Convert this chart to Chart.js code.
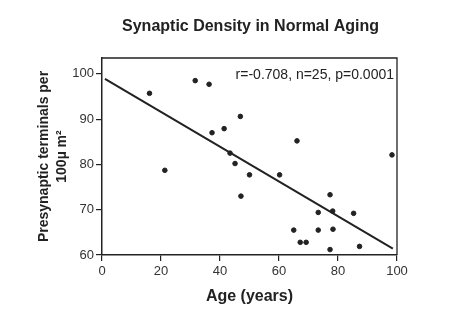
<!DOCTYPE html>
<html>
<head>
<meta charset="utf-8">
<script src="https://cdn.jsdelivr.net/npm/chart.js@4"></script>
<style>
  body { margin: 0; background: #fff; }
  #wrap { width: 470px; height: 328px; }
</style>
</head>
<body>
<div id="wrap"><canvas id="myChart"></canvas></div>
<script>
// ages and synaptic densities
var ages = [16.1, 31.6, 36.3, 21.3, 37.3, 41.4, 46.9, 43.4, 45.1, 50.0, 47.1, 60.2, 66.1,
            98.3, 77.3, 73.3, 78.2, 85.3, 65.0, 73.3, 78.3, 67.2, 69.2, 77.3, 87.3];
var density = [95.7, 98.5, 97.7, 78.7, 87.0, 87.9, 90.6, 82.5, 80.2, 77.7, 73.0, 77.7, 85.2,
               82.1, 73.3, 69.4, 69.7, 69.2, 65.5, 65.5, 65.7, 62.8, 62.8, 61.2, 61.9];
// regression line ends
var fitX = [1, 98.6];
var fitY = [98.9, 61.4];
var yTicks = [60, 70, 80, 90, 100];
var titleText = 'Synaptic Density in Normal Aging';
var statsText = 'r=-0.708, n=25, p=0.0001';

var ink = '#222';
var fam = '"Liberation Sans", Arial, sans-serif';

var points = [];
for (var i = 0; i < ages.length; i++) {
  points.push({x: ages[i], y: density[i]});
}
var fit = [];
for (var j = 0; j < fitX.length; j++) {
  fit.push({x: fitX[j], y: fitY[j]});
}

// frame top/right, title centred over the plot, stats text
var boxAndText = {
  id: 'boxAndText',
  afterDraw: function(chart) {
    var ctx = chart.ctx, a = chart.chartArea;
    ctx.save();
    ctx.strokeStyle = ink;
    ctx.lineWidth = 1.3;
    ctx.beginPath();
    ctx.moveTo(a.left, a.top);
    ctx.lineTo(a.right, a.top);
    ctx.lineTo(a.right, a.bottom);
    ctx.stroke();
    ctx.fillStyle = ink;
    ctx.textBaseline = 'middle';
    ctx.font = 'bold 16px ' + fam;
    ctx.textAlign = 'center';
    ctx.fillText(titleText, (a.left + a.right) / 2 + 1, 27);
    ctx.font = '14px ' + fam;
    ctx.textAlign = 'right';
    ctx.fillText(statsText, a.right - 3, 75);
    ctx.restore();
  }
};

new Chart(document.getElementById('myChart'), {
  type: 'scatter',
  data: {
    datasets: [
      {
        data: points,
        backgroundColor: ink,
        borderColor: ink,
        pointRadius: 2.3,
        pointHoverRadius: 2.3
      },
      {
        type: 'line',
        data: fit,
        borderColor: ink,
        borderWidth: 2,
        pointRadius: 0,
        fill: false
      }
    ]
  },
  options: {
    responsive: true,
    maintainAspectRatio: false,
    animation: false,
    events: [],
    layout: { padding: { left: 0, right: 73, top: 58, bottom: 0 } },
    plugins: {
      legend: { display: false },
      tooltip: { enabled: false },
      title: { display: false }
    },
    scales: {
      x: {
        type: 'linear',
        min: 0,
        max: 100,
        afterFit: function(s) { s.height = 73; },
        ticks: {
          stepSize: 20,
          color: '#333',
          padding: 3,
          font: { family: fam, size: 13 }
        },
        grid: { drawOnChartArea: false, color: ink, lineWidth: 1.2, tickLength: 6 },
        border: { color: ink, width: 1.5 },
        title: {
          display: true,
          text: 'Age (years)',
          color: ink,
          font: { family: fam, size: 16, weight: 'bold', lineHeight: 1.2 },
          padding: { top: 0, bottom: 21.4 }
        }
      },
      y: {
        type: 'linear',
        min: 60,
        max: 103.5,
        afterFit: function(s) { s.width = 102; },
        afterBuildTicks: function(s) {
          s.ticks = yTicks.map(function(v) { return {value: v}; });
        },
        ticks: {
          color: '#333',
          padding: 2,
          font: { family: fam, size: 13 }
        },
        grid: { drawOnChartArea: false, color: ink, lineWidth: 1.2, tickLength: 6 },
        border: { color: ink, width: 1.5 },
        title: {
          display: true,
          text: ['Presynaptic terminals per', '100\u00b5 m\u00b2'],
          color: ink,
          font: { family: fam, size: 14, weight: 'bold', lineHeight: 1.3 },
          padding: { top: 35, bottom: 0 }
        }
      }
    }
  },
  plugins: [boxAndText]
});
</script>
</body>
</html>
